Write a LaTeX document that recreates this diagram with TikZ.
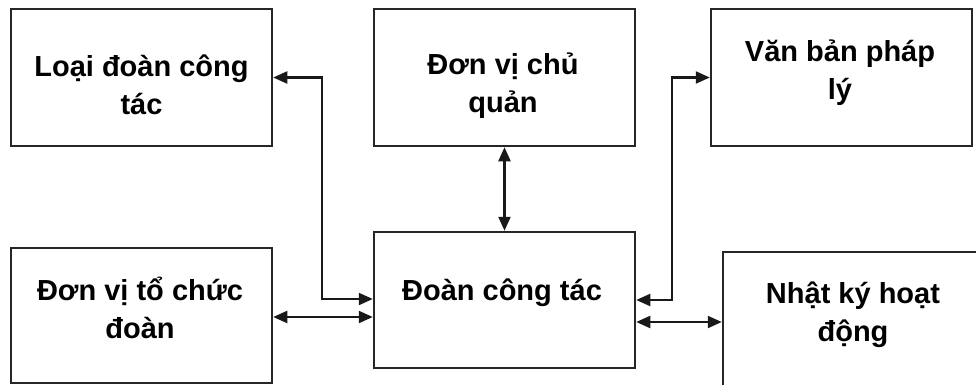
\documentclass[tikz,border=0pt]{standalone}
\usepackage{fontspec}
\setmainfont{Liberation Sans}
\usetikzlibrary{arrows.meta}
\begin{document}
\begin{tikzpicture}[x=1pt,y=-1pt,
  box/.style={draw=black!85, line width=2.5pt, rectangle, inner sep=0pt, fill=white},
  lbl/.style={font=\fontsize{29}{38}\selectfont\bfseries, align=center, anchor=base, inner sep=0pt},
  conn/.style={line width=2.2pt, draw=black!90, {Triangle[length=14pt,width=12pt]}-{Triangle[length=14pt,width=12pt]}}]
\useasboundingbox[fill=white] (0,0) rectangle (976,385);
% boxes
\node[box, minimum width=261pt, minimum height=137pt] (A) at (141.5,77.5) {};
\node[box, minimum width=261pt, minimum height=137pt] (B) at (504.5,77.5) {};
\node[box, minimum width=261pt, minimum height=137pt] (C) at (841.5,77.5) {};
\node[box, minimum width=261pt, minimum height=135pt] (D) at (141.5,315.5) {};
\node[box, minimum width=261pt, minimum height=136pt] (E) at (504.5,300) {};
\node[box, minimum width=257pt, minimum height=140pt] (F) at (851.5,322) {};
% labels (anchor = baseline of last line)
\node[lbl] (tA) at (141.5,114) {Loại đoàn công\\tác};
\node[lbl] (tB) at (503,113) {Đơn vị chủ\\quản};
\node[lbl] (tC) at (840,100) {Văn bản pháp\\lý};
\node[lbl] (tD) at (140,338) {Đơn vị tổ chức\\đoàn};
\node[lbl] (tE) at (502,300) {Đoàn công tác};
\node[lbl] (tF) at (853,341) {Nhật ký hoạt\\động};
% connectors
\coordinate (j1) at (322,299);
\draw[conn] (A.east) -| (j1) -- (E.west |- j1);
\draw[conn] ([yshift=-1.5pt]D.east) coordinate (d1) -- (E.west |- d1);
\draw[conn] (B.south) -- (E.north);
\coordinate (j2) at (672,300);
\draw[conn] (E.east |- j2) -- (j2) |- (C.west);
\draw[conn] ([yshift=-22pt]E.east) coordinate (e3) -- (F.west |- e3);
\end{tikzpicture}
\end{document}
